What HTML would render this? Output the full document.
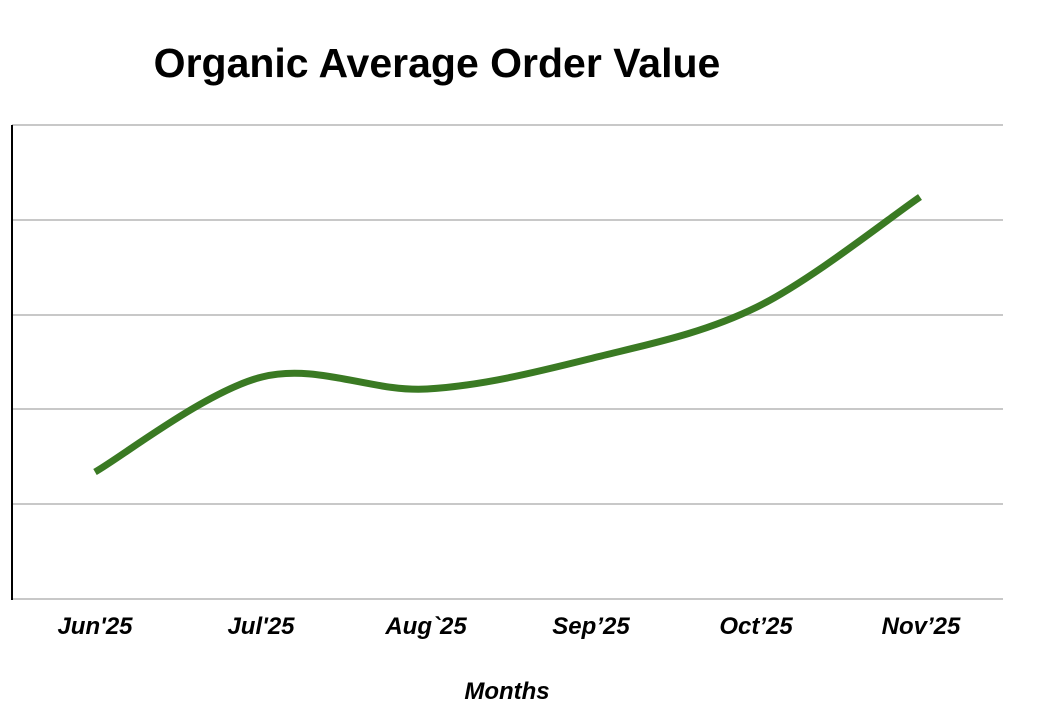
<!DOCTYPE html>
<html><head><meta charset="utf-8"><style>
html,body{margin:0;padding:0;background:#fff;}
svg{display:block;}
</style></head><body>
<svg width="1040" height="723" viewBox="0 0 1040 723" xmlns="http://www.w3.org/2000/svg">
<rect width="1040" height="723" fill="#fff"/>
<text x="437" y="77" text-anchor="middle" font-family="Liberation Sans, sans-serif" font-weight="bold" font-size="41" fill="#000">Organic Average Order Value</text>
<g stroke="#c8c8c8" stroke-width="2">
<line x1="12" y1="125" x2="1003" y2="125"/>
<line x1="12" y1="220" x2="1003" y2="220"/>
<line x1="12" y1="315" x2="1003" y2="315"/>
<line x1="12" y1="409" x2="1003" y2="409"/>
<line x1="12" y1="504" x2="1003" y2="504"/>
<line x1="12" y1="599" x2="1003" y2="599"/>
</g>
<line x1="12" y1="125" x2="12" y2="600" stroke="#000" stroke-width="2"/>
<path d="M95,472 C122.8,456.2 206.7,390.8 262,377 C317.3,363.2 371.8,392.2 427,389 C482.2,385.8 538,371.7 593,358 C648,344.3 702.5,333.8 757,307 C811.5,280.2 892.8,215.3 920,197" fill="none" stroke="#3a7a23" stroke-width="7" stroke-linecap="butt"/>
<g font-family="Liberation Sans, sans-serif" font-weight="bold" font-style="italic" font-size="24" fill="#000" text-anchor="middle">
<text x="95" y="634">Jun'25</text>
<text x="261" y="634">Jul'25</text>
<text x="426" y="634">Aug`25</text>
<text x="591" y="634">Sep’25</text>
<text x="756" y="634">Oct’25</text>
<text x="921" y="634">Nov’25</text>
<text x="507" y="699">Months</text>
</g>
</svg>
</body></html>
